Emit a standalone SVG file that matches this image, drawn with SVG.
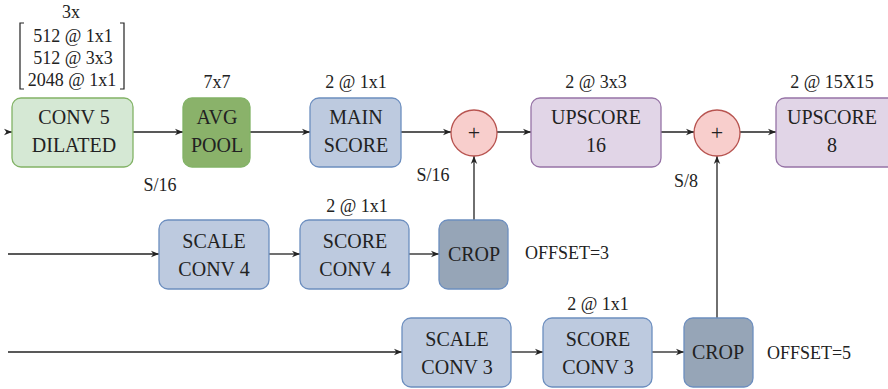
<svg xmlns="http://www.w3.org/2000/svg" width="888" height="389" viewBox="0 0 888 389" font-family="Liberation Serif">
<style>
text{font-family:'Liberation Serif';fill:#222;text-anchor:middle}
.n{font-size:20px}
.l{font-size:18px}
.pl{font-size:22px}
.g1{fill:#d5e8d4;stroke:#82b366;stroke-width:1.3}
.g2{fill:#8ab26a;stroke:#82b366;stroke-width:1.3}
.b1{fill:#bdcadf;stroke:#6c8ebf;stroke-width:1.3}
.b2{fill:#96a5b7;stroke:#6c8ebf;stroke-width:1.3}
.p1{fill:#e1d5e7;stroke:#9673a6;stroke-width:1.3}
.c{fill:#f8cecc;stroke:#b85450;stroke-width:1.3}
.e{fill:none;stroke:#222;stroke-width:1.3;marker-end:url(#a)}
</style>
<defs>
<marker id="a" viewBox="0 0 10 10" refX="10" refY="5" markerWidth="8" markerHeight="8" markerUnits="userSpaceOnUse" orient="auto">
<path d="M0,1 L10,5 L0,9 L3,5 Z" fill="#222"/>
</marker>
</defs>
<g id="connectors">
<path class="e" d="M8,132 H12"/>
<path class="e" d="M133,132 H183"/>
<path class="e" d="M250,132 H310"/>
<path class="e" d="M401,132 H451"/>
<path class="e" d="M497,132 H531"/>
<path class="e" d="M661,132 H694"/>
<path class="e" d="M740,132 H776"/>
<path class="e" d="M8,254 H159"/>
<path class="e" d="M269,254 H300"/>
<path class="e" d="M409,254 H439"/>
<path class="e" d="M474,220 V156"/>
<path class="e" d="M8,352 H402"/>
<path class="e" d="M511,352 H543"/>
<path class="e" d="M652,352 H684"/>
<path class="e" d="M717,318 V156"/>
</g>
<g id="conv5-params">
<text class="l" x="71" y="18">3x</text>
<text class="l" x="73" y="42">512 @ 1x1</text>
<text class="l" x="73" y="64">512 @ 3x3</text>
<text class="l" x="72" y="86">2048 @ 1x1</text>
<path d="M24,23 H20 V89 H24 M120,23 H124 V89 H120" fill="none" stroke="#222" stroke-width="1.2"/>
</g>
<g id="conv5"><rect class="g1" x="12" y="98" width="121" height="69" rx="9"/><text class="n" x="74" y="124">CONV 5</text><text class="n" x="74" y="152">DILATED</text></g>
<g id="avgpool"><rect class="g2" x="183" y="98" width="67" height="69" rx="9"/><text class="n" x="217" y="124">AVG</text><text class="n" x="217" y="152">POOL</text><text class="l" x="217" y="88">7x7</text></g>
<g id="mainscore"><rect class="b1" x="310" y="98" width="91" height="69" rx="9"/><text class="n" x="356" y="124">MAIN</text><text class="n" x="356" y="152">SCORE</text><text class="l" x="356" y="88">2 @ 1x1</text></g>
<g id="sum1"><circle class="c" cx="474" cy="133" r="23"/><text class="pl" x="474" y="140">+</text></g>
<g id="upscore16"><rect class="p1" x="531" y="98" width="130" height="69" rx="9"/><text class="n" x="596" y="124">UPSCORE</text><text class="n" x="596" y="152">16</text><text class="l" x="596" y="88">2 @ 3x3</text></g>
<g id="sum2"><circle class="c" cx="717" cy="133" r="23"/><text class="pl" x="717" y="140">+</text></g>
<g id="upscore8"><rect class="p1" x="776" y="98" width="125" height="69" rx="9"/><text class="n" x="832" y="124">UPSCORE</text><text class="n" x="832" y="152">8</text><text class="l" x="832" y="88">2 @ 15X15</text></g>
<g id="scale-labels">
<text class="l" x="160" y="191">S/16</text>
<text class="l" x="433" y="181">S/16</text>
<text class="l" x="686" y="187">S/8</text>
</g>
<g id="scaleconv4"><rect class="b1" x="159" y="220" width="110" height="69" rx="9"/><text class="n" x="214" y="248">SCALE</text><text class="n" x="214" y="276">CONV 4</text></g>
<g id="scoreconv4"><rect class="b1" x="300" y="220" width="109" height="69" rx="9"/><text class="n" x="355" y="248">SCORE</text><text class="n" x="355" y="276">CONV 4</text><text class="l" x="357" y="212">2 @ 1x1</text></g>
<g id="crop4"><rect class="b2" x="439" y="220" width="69" height="69" rx="9"/><text class="n" x="474" y="261">CROP</text><text class="l" x="567" y="259">OFFSET=3</text></g>
<g id="scaleconv3"><rect class="b1" x="402" y="318" width="109" height="69" rx="9"/><text class="n" x="457" y="346">SCALE</text><text class="n" x="457" y="374">CONV 3</text></g>
<g id="scoreconv3"><rect class="b1" x="543" y="318" width="109" height="69" rx="9"/><text class="n" x="598" y="346">SCORE</text><text class="n" x="598" y="374">CONV 3</text><text class="l" x="598" y="310">2 @ 1x1</text></g>
<g id="crop3"><rect class="b2" x="684" y="318" width="69" height="69" rx="9"/><text class="n" x="718" y="359">CROP</text><text class="l" x="809" y="359">OFFSET=5</text></g>
</svg>
